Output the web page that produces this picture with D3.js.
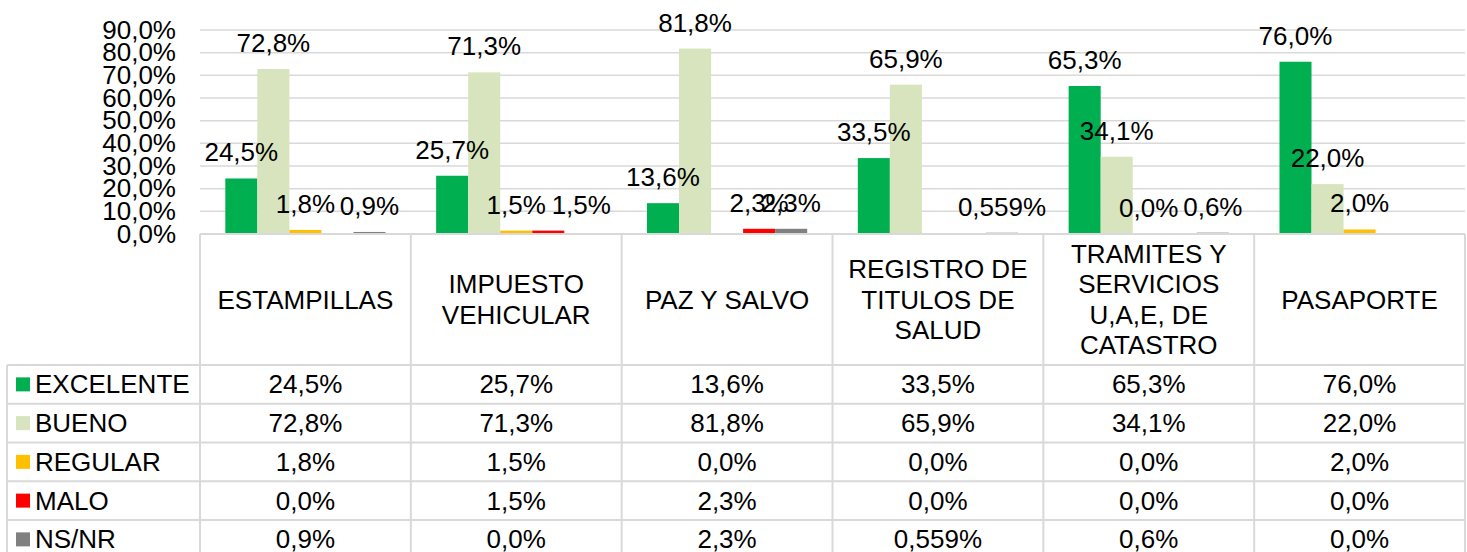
<!DOCTYPE html>
<html>
<head>
<meta charset="utf-8">
<script src="https://cdn.jsdelivr.net/npm/d3@7"></script>
<style>
  body { margin: 0; background: #fff; }
  svg text { font-family: "Liberation Sans", Arial, sans-serif; fill: #000; }
</style>
</head>
<body>
<div id="chart"></div>
<script>
// categories (header lines of the table) and series
var categories = ["ESTAMPILLAS", "IMPUESTO VEHICULAR", "PAZ Y SALVO", "REGISTRO DE TITULOS DE SALUD", "TRAMITES Y SERVICIOS U,A,E, DE CATASTRO", "PASAPORTE"]
var headerLines = [["ESTAMPILLAS"], ["IMPUESTO", "VEHICULAR"], ["PAZ Y SALVO"], ["REGISTRO DE", "TITULOS DE", "SALUD"], ["TRAMITES Y", "SERVICIOS", "U,A,E, DE", "CATASTRO"], ["PASAPORTE"]]
var seriesNames = ["EXCELENTE", "BUENO", "REGULAR", "MALO", "NS/NR"]
var seriesColors = ["#00b050", "#d7e4bd", "#ffc000", "#ff0000", "#808080"]

var excelente = [24.5, 25.7, 13.6, 33.5, 65.3, 76.0]
var bueno     = [72.8, 71.3, 81.8, 65.9, 34.1, 22.0]
var regular   = [1.8, 1.5, 0.0, 0.0, 0.0, 2.0]
var malo      = [0.0, 1.5, 2.3, 0.0, 0.0, 0.0]
var nsnr      = [0.9, 0.0, 2.3, 0.559, 0.6, 0.0]
var seriesValues = [excelente, bueno, regular, malo, nsnr]

var yTicks = [0, 10, 20, 30, 40, 50, 60, 70, 80, 90]
// data labels Excel left out: [category index, series index]
var hiddenLabels = [[0, 3], [1, 4], [2, 2], [3, 2], [3, 3], [4, 3], [5, 3], [5, 4]]

var width = 1467, height = 552
var gridColor = "#d9d9d9"
var fontSize = 26

var locale = d3.formatLocale({decimal: ",", thousands: ".", grouping: [3], currency: ["", ""]})
function fmt(v) {
    var p = Math.abs(v * 10 - Math.round(v * 10)) > 1e-6 ? ".3f" : ".1f"
    return locale.format(p)(v) + "%"
}

var svg = d3.select("#chart").append("svg")
    .attr("width", width)
    .attr("height", height)

var xScale = d3.scaleBand()
    .domain(categories)
    .range([200, 1465])

var seriesScale = d3.scaleBand()
    .domain(seriesNames)
    .range([0, xScale.bandwidth()])
    .paddingOuter(0.79)

var yScale = d3.scaleLinear()
    .domain([0, 90])
    .range([234, 30])

var rowScale = d3.scaleBand()
    .domain(seriesNames)
    .range([365, 558.75])

// gridlines
svg.append("g").selectAll("line")
    .data(yTicks).enter()
    .append("line")
    .attr("x1", 200).attr("x2", 1465)
    .attr("y1", function(d){ return yScale(d) })
    .attr("y2", function(d){ return yScale(d) })
    .attr("stroke", gridColor)
    .attr("stroke-width", 1.5)

// y axis labels
var yAxis = d3.axisLeft(yScale)
    .tickValues(yTicks)
    .tickSize(0)
    .tickPadding(24)
    .tickFormat(fmt)

svg.append("g")
    .attr("transform", "translate(200,0)")
    .call(yAxis)
    .call(function(g){ g.select(".domain").remove() })
    .selectAll("text")
    .attr("font-size", fontSize)
    .attr("font-family", "Liberation Sans, Arial, sans-serif")
    .attr("fill", "#000")

// bars
var groups = svg.append("g").selectAll("g")
    .data(categories).enter()
    .append("g")
    .attr("transform", function(d){ return "translate(" + xScale(d) + ",0)" })

groups.selectAll("rect")
    .data(function(d, i){
        return seriesNames.map(function(s, j){ return {cat: i, s: j, name: s, v: seriesValues[j][i]} })
    }).enter()
    .append("rect")
    .attr("x", function(d){ return seriesScale(d.name) })
    .attr("width", seriesScale.bandwidth())
    .attr("y", function(d){ return yScale(d.v) })
    .attr("height", function(d){ return yScale(0) - yScale(d.v) })
    .attr("fill", function(d){ return seriesColors[d.s] })

// data labels
function isHidden(d) {
    return hiddenLabels.some(function(h){ return h[0] == d.cat && h[1] == d.s })
}
// the MALO label of IMPUESTO was nudged right in the original
function labelShift(d) {
    return (d.cat == 1 && d.s == 3) ? 33 : 0
}

groups.selectAll("text.lbl")
    .data(function(d, i){
        return seriesNames.map(function(s, j){ return {cat: i, s: j, name: s, v: seriesValues[j][i]} })
            .filter(function(d){ return !isHidden(d) })
    }).enter()
    .append("text")
    .attr("class", "lbl")
    .attr("x", function(d){ return seriesScale(d.name) + seriesScale.bandwidth() / 2 + labelShift(d) })
    .attr("y", function(d){ return yScale(d.v) - 17 })
    .attr("text-anchor", "middle")
    .attr("font-size", fontSize)
    .text(function(d){ return fmt(d.v) })

// data table
var table = svg.append("g")

// vertical column lines
var colEdges = categories.map(function(c){ return xScale(c) }).concat([1465])
table.selectAll("line.col")
    .data(colEdges).enter()
    .append("line")
    .attr("x1", function(d){ return d }).attr("x2", function(d){ return d })
    .attr("y1", 234).attr("y2", height)
    .attr("stroke", gridColor).attr("stroke-width", 2)

table.append("line")
    .attr("x1", 7).attr("x2", 7)
    .attr("y1", 365).attr("y2", height)
    .attr("stroke", gridColor).attr("stroke-width", 2)

table.append("line")
    .attr("x1", 200).attr("x2", 1465)
    .attr("y1", 234).attr("y2", 234)
    .attr("stroke", gridColor).attr("stroke-width", 2)

table.selectAll("line.row")
    .data(seriesNames).enter()
    .append("line")
    .attr("x1", 7).attr("x2", 1465)
    .attr("y1", function(d){ return rowScale(d) })
    .attr("y2", function(d){ return rowScale(d) })
    .attr("stroke", gridColor).attr("stroke-width", 2)

// header text
table.selectAll("text.head")
    .data(categories).enter()
    .append("text")
    .attr("class", "head")
    .attr("text-anchor", "middle")
    .attr("font-size", fontSize)
    .each(function(d, i){
        var lines = headerLines[i]
        var cx = xScale(d) + xScale.bandwidth() / 2
        var lh = 30.3
        var y0 = 299.5 - (lines.length - 1) * lh / 2
        d3.select(this).selectAll("tspan")
            .data(lines).enter()
            .append("tspan")
            .attr("x", cx)
            .attr("y", function(l, k){ return y0 + k * lh })
            .attr("dy", "0.35em")
            .text(function(l){ return l })
    })

// legend keys and names
var rows = table.selectAll("g.row")
    .data(seriesNames).enter()
    .append("g")
    .attr("transform", function(d){ return "translate(0," + (rowScale(d) + rowScale.bandwidth() / 2) + ")" })

rows.append("rect")
    .attr("x", 16).attr("y", -7)
    .attr("width", 14).attr("height", 14)
    .attr("fill", function(d, i){ return seriesColors[i] })

rows.append("text")
    .attr("x", 35)
    .attr("dy", "0.35em")
    .attr("font-size", fontSize)
    .text(function(d){ return d })

rows.each(function(d, j){
    d3.select(this).selectAll("text.val")
        .data(categories).enter()
        .append("text")
        .attr("class", "val")
        .attr("x", function(c){ return xScale(c) + xScale.bandwidth() / 2 })
        .attr("dy", "0.35em")
        .attr("text-anchor", "middle")
        .attr("font-size", fontSize)
        .text(function(c, i){ return fmt(seriesValues[j][i]) })
})
</script>
</body>
</html>
